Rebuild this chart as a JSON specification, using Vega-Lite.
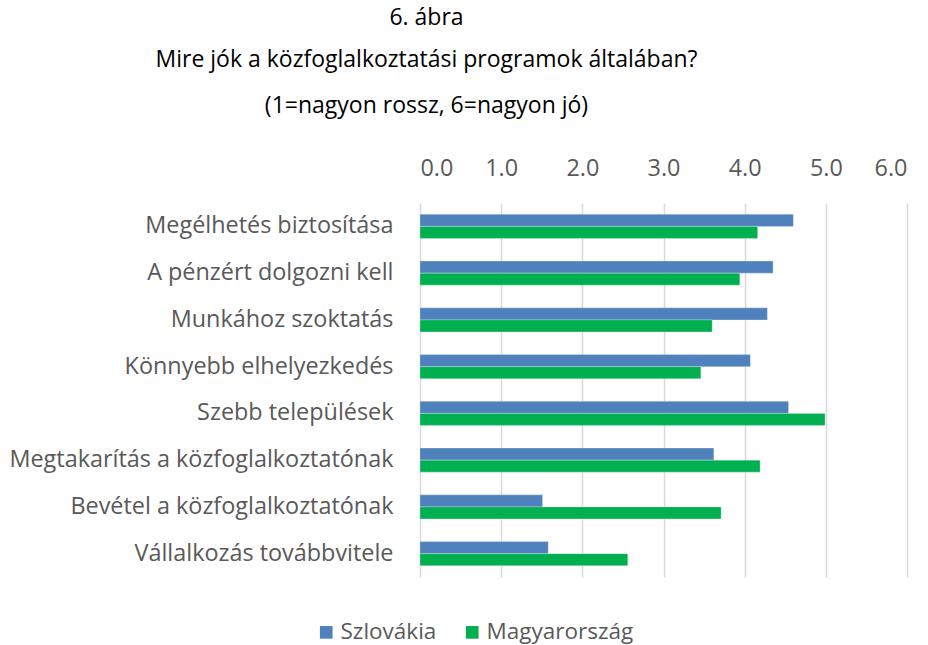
{
  "$schema": "https://vega.github.io/schema/vega-lite/v6.json",
  "width": 487,
  "height": 374,
  "autosize": {"type": "none"},
  "padding": {"left": 420, "top": 203, "right": 21, "bottom": 68},
  "background": "white",
  "view": {"stroke": null},
  "title": {
    "text": ["6. ábra", "Mire jók a közfoglalkoztatási programok általában?"],
    "subtitle": "(1=nagyon rossz, 6=nagyon jó)",
    "anchor": "middle",
    "frame": "group",
    "dx": -237,
    "font": "Open Sans",
    "fontSize": 23,
    "fontWeight": "normal",
    "color": "#000000",
    "lineHeight": 42,
    "subtitleFont": "Open Sans",
    "subtitleFontSize": 23,
    "subtitleColor": "#000000",
    "subtitlePadding": 23,
    "offset": 38
  },
  "data": {
    "values": [
      {"cat": "Megélhetés biztosítása", "orszag": "Szlovákia", "v": 4.60},
      {"cat": "Megélhetés biztosítása", "orszag": "Magyarország", "v": 4.16},
      {"cat": "A pénzért dolgozni kell", "orszag": "Szlovákia", "v": 4.35},
      {"cat": "A pénzért dolgozni kell", "orszag": "Magyarország", "v": 3.94},
      {"cat": "Munkához szoktatás", "orszag": "Szlovákia", "v": 4.28},
      {"cat": "Munkához szoktatás", "orszag": "Magyarország", "v": 3.60},
      {"cat": "Könnyebb elhelyezkedés", "orszag": "Szlovákia", "v": 4.07},
      {"cat": "Könnyebb elhelyezkedés", "orszag": "Magyarország", "v": 3.46},
      {"cat": "Szebb települések", "orszag": "Szlovákia", "v": 4.54},
      {"cat": "Szebb települések", "orszag": "Magyarország", "v": 4.99},
      {"cat": "Megtakarítás a közfoglalkoztatónak", "orszag": "Szlovákia", "v": 3.62},
      {"cat": "Megtakarítás a közfoglalkoztatónak", "orszag": "Magyarország", "v": 4.19},
      {"cat": "Bevétel a közfoglalkoztatónak", "orszag": "Szlovákia", "v": 1.51},
      {"cat": "Bevétel a közfoglalkoztatónak", "orszag": "Magyarország", "v": 3.71},
      {"cat": "Vállalkozás továbbvitele", "orszag": "Szlovákia", "v": 1.58},
      {"cat": "Vállalkozás továbbvitele", "orszag": "Magyarország", "v": 2.56}
    ]
  },
  "mark": {"type": "bar", "stroke": "white", "strokeWidth": 0.5, "strokeOpacity": 0.5},
  "encoding": {
    "y": {
      "field": "cat",
      "type": "nominal",
      "sort": null,
      "scale": {"paddingInner": 0.486, "paddingOuter": 0.243},
      "axis": {
        "title": null,
        "ticks": false,
        "domain": false,
        "labelFont": "Open Sans",
        "labelFontSize": 23.4,
        "labelColor": "#595959",
        "labelPadding": 27,
        "labelLimit": 450
      }
    },
    "yOffset": {
      "field": "orszag",
      "type": "nominal",
      "sort": ["Szlovákia", "Magyarország"]
    },
    "x": {
      "field": "v",
      "type": "quantitative",
      "scale": {"domain": [0, 6], "nice": false},
      "axis": {
        "orient": "top",
        "title": null,
        "values": [0, 1, 2, 3, 4, 5, 6],
        "format": ".1f",
        "ticks": false,
        "domain": false,
        "grid": true,
        "gridColor": "#d9d9d9",
        "gridWidth": 1.5,
        "labelFont": "Open Sans",
        "labelFontSize": 23.4,
        "labelColor": "#595959",
        "labelPadding": 23
      }
    },
    "color": {
      "field": "orszag",
      "type": "nominal",
      "sort": ["Szlovákia", "Magyarország"],
      "scale": {"domain": ["Szlovákia", "Magyarország"], "range": ["#4F81BD", "#00B050"]},
      "legend": {
        "title": null,
        "orient": "none",
        "direction": "horizontal",
        "legendX": -105,
        "legendY": 418,
        "symbolType": "square",
        "symbolSize": 160,
        "symbolStrokeWidth": 0,
        "labelFont": "Open Sans",
        "labelFontSize": 22.5,
        "labelColor": "#595959",
        "columnPadding": 24,
        "labelOffset": 3
      }
    }
  }
}
